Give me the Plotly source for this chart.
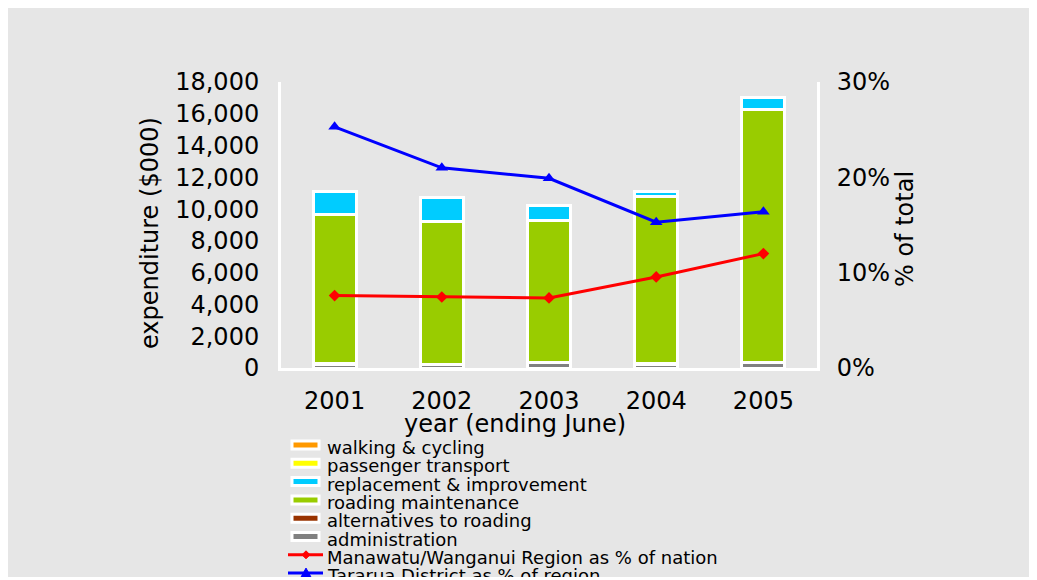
import plotly.graph_objects as go

years = ["2001", "2002", "2003", "2004", "2005"]

# expenditure ($000), stacked bottom -> top
administration = [250, 230, 320, 250, 320]
alternatives = [20, 20, 20, 20, 20]
roading_maintenance = [9420, 9000, 8970, 10550, 15960]
replacement_improvement = [1390, 1510, 890, 260, 750]
passenger_transport = [0, 0, 0, 0, 0]
walking_cycling = [0, 0, 0, 0, 0]

# percentage series (right axis)
region_pct_nation = [0.076, 0.0745, 0.0735, 0.0955, 0.120]
district_pct_region = [0.253, 0.210, 0.199, 0.153, 0.164]

bar_series = [
    ("administration", administration, "#808080"),
    ("alternatives to roading", alternatives, "#993300"),
    ("roading maintenance", roading_maintenance, "#99cc00"),
    ("replacement & improvement", replacement_improvement, "#00ccff"),
    ("passenger transport", passenger_transport, "#ffff00"),
    ("walking & cycling", walking_cycling, "#ff9900"),
]
line_series = [
    ("Manawatu/Wanganui Region as % of nation", region_pct_nation, "#ff0000", "diamond"),
    ("Tararua District as % of region", district_pct_region, "#0000ff", "triangle-up"),
]

FONT = "DejaVu Sans"
BG = "#e6e6e6"
W, H = 1029, 569
ML, MR, MT, MB = 273, 220, 74, 209
PW, PH = W - ML - MR, H - MT - MB

fig = go.Figure()
for name, vals, col in bar_series:
    fig.add_trace(go.Bar(x=years, y=vals, name=name, width=0.4,
                         marker=dict(color=col, line=dict(color="white", width=3)),
                         showlegend=False))
for name, vals, col, sym in line_series:
    fig.add_trace(go.Scatter(x=years, y=vals, name=name, yaxis="y2", mode="lines+markers",
                             line=dict(color=col, width=3),
                             marker=dict(symbol=sym, size=9 if sym == "diamond" else 11, color=col),
                             showlegend=False))

def px2x(px):
    return (px - ML) / PW

def py2y(py):
    return (H - MB - py) / PH

shapes = []
annotations = []
legend_items = [(n, c, "bar", None) for n, _, c in reversed(bar_series)] + \
               [(n, c, "line", s) for n, _, c, s in line_series]
row0, rowstep = 437, 18.3
for i, (name, col, kind, sym) in enumerate(legend_items):
    cy = row0 + i * rowstep
    if kind == "bar":
        shapes.append(dict(type="rect", xref="paper", yref="paper",
                           x0=px2x(284), x1=px2x(311), y0=py2y(cy + 4), y1=py2y(cy - 4),
                           fillcolor=col, line=dict(color="white", width=3)))
    else:
        shapes.append(dict(type="line", xref="paper", yref="paper",
                           x0=px2x(280), x1=px2x(315), y0=py2y(cy), y1=py2y(cy),
                           line=dict(color=col, width=3)))
        mx = 298
        if sym == "diamond":
            path = f"M {px2x(mx-4)} {py2y(cy)} L {px2x(mx)} {py2y(cy-4)} L {px2x(mx+4)} {py2y(cy)} L {px2x(mx)} {py2y(cy+4)} Z"
        else:
            path = f"M {px2x(mx-5)} {py2y(cy+4)} L {px2x(mx)} {py2y(cy-5)} L {px2x(mx+5)} {py2y(cy+4)} Z"
        shapes.append(dict(type="path", xref="paper", yref="paper", path=path,
                           fillcolor=col, line=dict(color=col, width=1)))
    annotations.append(dict(x=px2x(317), y=py2y(cy + 2.5), xref="paper", yref="paper",
                            text=name, showarrow=False, xanchor="left", yanchor="middle",
                            font=dict(family=FONT, size=18, color="black")))

# axis titles placed as in the reference
annotations.append(dict(x=px2x(507), y=py2y(416), xref="paper", yref="paper",
                        text="year (ending June)", showarrow=False,
                        xanchor="center", yanchor="middle",
                        font=dict(family=FONT, size=24, color="black")))
annotations.append(dict(x=px2x(142), y=py2y(225), xref="paper", yref="paper",
                        text="expenditure ($000)", showarrow=False, textangle=-90,
                        xanchor="center", yanchor="middle",
                        font=dict(family=FONT, size=24, color="black")))
annotations.append(dict(x=px2x(897), y=py2y(221), xref="paper", yref="paper",
                        text="% of total", showarrow=False, textangle=-90,
                        xanchor="center", yanchor="middle",
                        font=dict(family=FONT, size=24, color="black")))

fig.update_layout(
    width=W, height=H,
    margin=dict(l=ML, r=MR, t=MT, b=MB, pad=0),
    paper_bgcolor=BG, plot_bgcolor=BG,
    barmode="stack", bargap=0.6,
    font=dict(family=FONT, size=24, color="black"),
    xaxis=dict(type="category", showline=True, linecolor="white", linewidth=3,
               showgrid=False, ticks="", tickfont=dict(size=24), ticklabelstandoff=9),
    yaxis=dict(range=[0, 18000], dtick=2000, tickformat=",", showline=True,
               linecolor="white", linewidth=3, showgrid=False, zeroline=False, ticks="",
               ticklabelstandoff=14, tickfont=dict(size=24)),
    yaxis2=dict(range=[0, 0.30], dtick=0.1, tickformat=".0%", overlaying="y", side="right",
                showline=True, linecolor="white", linewidth=3, showgrid=False, zeroline=False,
                ticks="", ticklabelstandoff=12, tickfont=dict(size=24)),
    shapes=shapes, annotations=annotations,
)

fig.write_html("out.html")
